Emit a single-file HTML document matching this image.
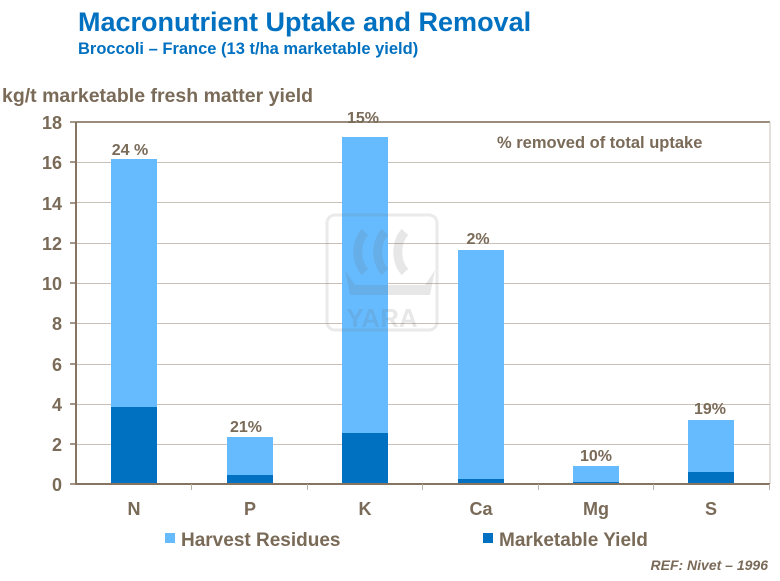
<!DOCTYPE html>
<html><head><meta charset="utf-8"><style>
body{margin:0;background:#fff;}
</style></head><body>
<svg width="780" height="576" xmlns="http://www.w3.org/2000/svg" font-family="Liberation Sans, Arial, sans-serif" font-weight="bold">
<rect width="780" height="576" fill="#fff"/>
<text x="78" y="31" font-size="27" fill="#0070c0">Macronutrient Uptake and Removal</text>
<text x="78" y="54" font-size="16.5" fill="#0070c0">Broccoli – France (13 t/ha marketable yield)</text>
<text x="2" y="102" font-size="19.5" fill="#7a6a58">kg/t marketable fresh matter yield</text>
<!-- grid -->
<g stroke="#c9c1b8" stroke-width="1">
<line x1="76" y1="162.5" x2="770" y2="162.5"/>
<line x1="76" y1="202.5" x2="770" y2="202.5"/>
<line x1="76" y1="243.5" x2="770" y2="243.5"/>
<line x1="76" y1="283.5" x2="770" y2="283.5"/>
<line x1="76" y1="323.5" x2="770" y2="323.5"/>
<line x1="76" y1="364.5" x2="770" y2="364.5"/>
<line x1="76" y1="404.5" x2="770" y2="404.5"/>
<line x1="76" y1="444.5" x2="770" y2="444.5"/>
</g>
<line x1="76" y1="122" x2="770" y2="122" stroke="#9a8c7c" stroke-width="2"/>
<line x1="770" y1="122" x2="770" y2="484" stroke="#c9c1b8" stroke-width="1"/>
<!-- bars -->
<g fill="#66bbff">
<rect x="111" y="159" width="46" height="325"/>
<rect x="227" y="437" width="46" height="47"/>
<rect x="342" y="137" width="46" height="347"/>
<rect x="458" y="250" width="46" height="234"/>
<rect x="573" y="466" width="46" height="18"/>
<rect x="688" y="420" width="46" height="64"/>
</g>
<g fill="#0070c0">
<rect x="111" y="407" width="46" height="77"/>
<rect x="227" y="475" width="46" height="9"/>
<rect x="342" y="433" width="46" height="51"/>
<rect x="458" y="479" width="46" height="5"/>
<rect x="573" y="482" width="46" height="2"/>
<rect x="688" y="472" width="46" height="12"/>
</g>
<!-- watermark -->
<g opacity="0.15">
<rect x="327" y="215" width="110" height="115" rx="8" fill="none" stroke="#777" stroke-width="3"/>
<path d="M365 232 a18 25 0 0 0 0 40" stroke="#666" stroke-width="9" fill="none"/>
<path d="M385 232 a18 25 0 0 0 0 40" stroke="#666" stroke-width="9" fill="none"/>
<path d="M405 232 a18 25 0 0 0 0 40" stroke="#666" stroke-width="9" fill="none"/>
<path d="M345 270 L350 295 L430 295 L435 270 L425 285 L355 285 Z" fill="#666"/>
<text x="382" y="327" font-size="26" fill="#666" text-anchor="middle">YARA</text>
</g>
<!-- axes -->
<g stroke="#857462" stroke-width="2">
<line x1="76" y1="122" x2="76" y2="485"/>
<line x1="76" y1="484" x2="770" y2="484"/>
</g>
<g stroke="#857462" stroke-width="1.5">
<line x1="70" y1="122" x2="76" y2="122"/><line x1="70" y1="162" x2="76" y2="162"/><line x1="70" y1="203" x2="76" y2="203"/><line x1="70" y1="243" x2="76" y2="243"/><line x1="70" y1="283" x2="76" y2="283"/><line x1="70" y1="323" x2="76" y2="323"/><line x1="70" y1="364" x2="76" y2="364"/><line x1="70" y1="404" x2="76" y2="404"/><line x1="70" y1="444" x2="76" y2="444"/><line x1="70" y1="484" x2="76" y2="484"/>
</g>
<g stroke="#b8aea2" stroke-width="1">
<line x1="191.5" y1="484" x2="191.5" y2="490"/><line x1="307.5" y1="484" x2="307.5" y2="490"/><line x1="422.5" y1="484" x2="422.5" y2="490"/><line x1="538.5" y1="484" x2="538.5" y2="490"/><line x1="653.5" y1="484" x2="653.5" y2="490"/><line x1="769.5" y1="484" x2="769.5" y2="490"/>
</g>
<g font-size="18" fill="#7a6a58" text-anchor="end">
<text x="62" y="129">18</text><text x="62" y="169">16</text><text x="62" y="210">14</text><text x="62" y="250">12</text><text x="62" y="290">10</text><text x="62" y="330">8</text><text x="62" y="371">6</text><text x="62" y="411">4</text><text x="62" y="451">2</text><text x="62" y="491">0</text>
</g>
<g font-size="18" fill="#7a6a58" text-anchor="middle">
<text x="134" y="515">N</text><text x="250" y="515">P</text><text x="365" y="515">K</text><text x="481" y="515">Ca</text><text x="596" y="515">Mg</text><text x="711" y="515">S</text>
</g>
<g font-size="16" fill="#7a6a58" text-anchor="middle">
<text x="130" y="155">24 %</text><text x="246" y="432">21%</text><text x="363" y="123">15%</text><text x="478" y="244">2%</text><text x="596" y="461">10%</text><text x="710" y="414">19%</text>
</g>
<text x="497" y="148" font-size="16.5" fill="#7a6a58">% removed of total uptake</text>
<rect x="165" y="533" width="10" height="10" fill="#66bbff"/>
<text x="181" y="546" font-size="19" fill="#7a6a58">Harvest Residues</text>
<rect x="483" y="533" width="10" height="10" fill="#0070c0"/>
<text x="499" y="546" font-size="19" fill="#7a6a58">Marketable Yield</text>
<text x="768" y="570" font-size="14" font-style="italic" fill="#7a6a58" text-anchor="end">REF: Nivet – 1996</text>
</svg>
</body></html>
